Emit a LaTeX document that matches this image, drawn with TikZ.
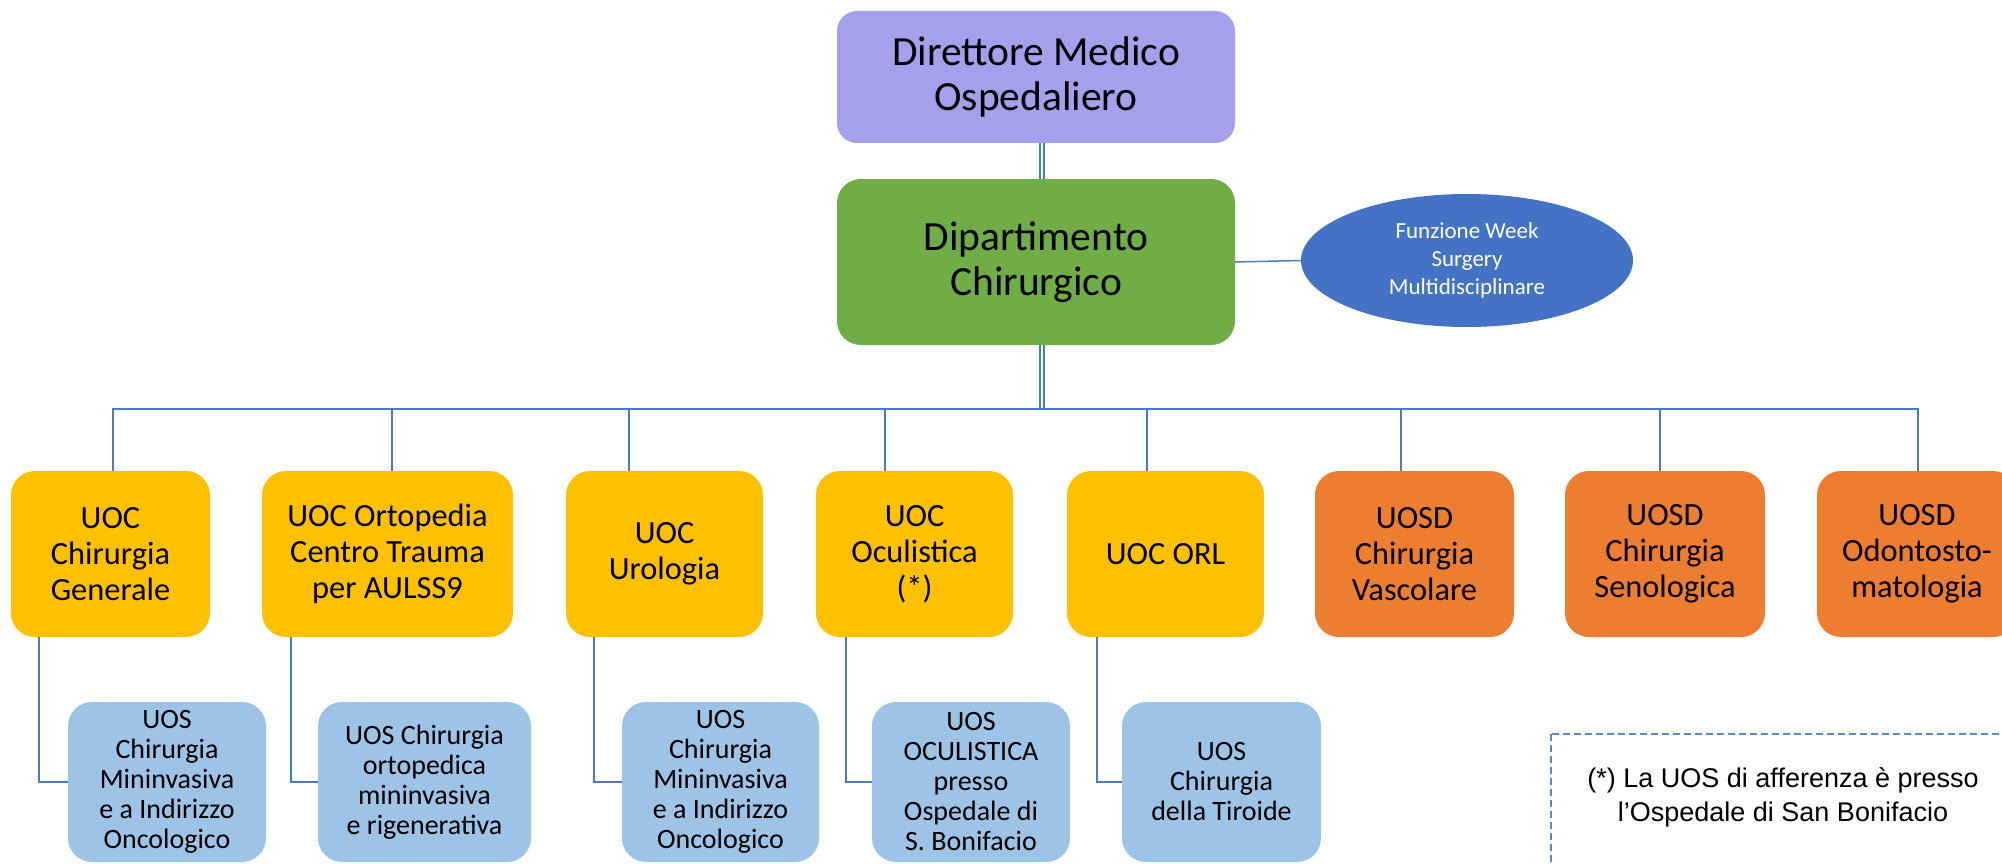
\documentclass[tikz,border=0pt]{standalone}
\usepackage{fontspec}
\setmainfont{Carlito}
\newfontfamily\notefont{Liberation Sans}
\usetikzlibrary{shapes.geometric}

\definecolor{dmocol}{HTML}{A5A0EC}
\definecolor{dipcol}{HTML}{70AD47}
\definecolor{weekcol}{HTML}{4472C4}
\definecolor{uoccol}{HTML}{FFC000}
\definecolor{uosdcol}{HTML}{ED7D31}
\definecolor{uoscol}{HTML}{9DC3E6}
\definecolor{linkcol}{HTML}{4A7EBB}
\definecolor{notecol}{HTML}{5B8BC5}

\tikzset{
    box/.style={align=center, inner sep=0pt},
    dirbox/.style={box, rounded corners=20pt, fill=dmocol, minimum width=398pt,
        font=\fontsize{41.5}{45}\selectfont},
    dipbox/.style={box, rounded corners=24pt, fill=dipcol, minimum width=398pt,
        minimum height=166pt, font=\fontsize{41.5}{45}\selectfont},
    weekell/.style={ellipse, align=center, inner sep=0pt, fill=weekcol, text=white,
        minimum width=332pt, minimum height=133pt, font=\fontsize{23}{28}\selectfont},
    uocbox/.style={box, rounded corners=24pt, fill=uoccol, minimum height=166pt,
        font=\fontsize{32.4}{36}\selectfont},
    uosdbox/.style={uocbox, fill=uosdcol},
    uosbox/.style={box, rounded corners=24pt, fill=uoscol, minimum height=160pt,
        font=\fontsize{28}{30}\selectfont},
    link/.style={draw=linkcol, line width=1.5pt},
    trunk/.style={draw=linkcol, line width=2.5pt, double=white, double distance=1.5pt},
    notedash/.style={draw=notecol, line width=1.5pt, dash pattern=on 7pt off 4pt},
    notetext/.style={align=center, inner sep=0pt, font=\notefont\fontsize{27}{34}\selectfont}
}

\begin{document}
\begin{tikzpicture}[x=1pt, y=-1pt]

            \def\Ytop{77};
            \def\Ydip{262};
            \def\Yuoc{554};
            \def\Yuos{782};
            \def\Ybus{409};
            \def\Xtrunk{1042};

            \useasboundingbox (0,0) rectangle (2002,864);

            % direzione
            \node[dirbox, minimum height=132pt] (dmo) at (1036, \Ytop) {Direttore Medico\\Ospedaliero};
            \node[dipbox] (dip) at (1036, \Ydip) {Dipartimento\\Chirurgico};
            \node[weekell] (week) at (1467, 260.5) {Funzione Week\\Surgery\\Multidisciplinare};

            % UOC / UOSD
            \node[uocbox, minimum width=199pt] (gen) at (110.5, \Yuoc) {UOC\\Chirurgia\\Generale};
            \node[uocbox, minimum width=251pt] (orto) at (387.5, \Yuoc) {UOC Ortopedia\\Centro Trauma\\per AULSS9};
            \node[uocbox, minimum width=197pt] (uro) at (664.5, \Yuoc) {UOC\\Urologia};
            \node[uocbox, minimum width=197pt] (ocu) at (914.5, \Yuoc) {UOC\\Oculistica\\(*)};
            \node[uocbox, minimum width=197pt] (orl) at (1165.5, \Yuoc) {UOC ORL};
            \node[uosdbox, minimum width=199pt] (vasc) at (1414.5, \Yuoc) {UOSD\\Chirurgia\\Vascolare};
            \node[uosdbox, minimum width=200pt] (seno) at (1665, \Yuoc) {UOSD\\Chirurgia\\Senologica};
            \node[uosdbox, minimum width=200pt] (odon) at (1917, \Yuoc) {UOSD\\Odontosto-\\matologia};

            % UOS
            \node[uosbox, minimum width=198pt] (mini1) at (167, \Yuos) {UOS\\Chirurgia\\Mininvasiva\\e a Indirizzo\\Oncologico};
            \node[uosbox, minimum width=213pt] (ortomini) at (424.5, \Yuos) {UOS Chirurgia\\ortopedica\\mininvasiva\\e rigenerativa};
            \node[uosbox, minimum width=197pt] (mini2) at (720.5, \Yuos) {UOS\\Chirurgia\\Mininvasiva\\e a Indirizzo\\Oncologico};
            \node[uosbox, minimum width=198pt] (ocul) at (971, \Yuos) {UOS\\OCULISTICA\\presso\\Ospedale di\\S. Bonifacio};
            \node[uosbox, minimum width=199pt] (tiro) at (1221.5, \Yuos) {UOS\\Chirurgia\\della Tiroide};

            % links
            \coordinate (bus) at (\Xtrunk, \Ybus);
            \draw[trunk] ([xshift=6]dmo.south) -- ([xshift=6]dip.north);
            \draw[trunk] ([xshift=6]dip.south) -- (bus);
            \draw[link] (dip.east) -- (week.west);
            \foreach \n/\dx in {gen/2.5, orto/4.5, uro/-35.5, ocu/-29.5, orl/-18.5, vasc/-13.5, seno/-5, odon/1}
                \draw[link] (bus) -| ([xshift=\dx]\n.north);
            \foreach \a/\b/\dx in {gen/mini1/-71.5, orto/ortomini/-96.5, uro/mini2/-70.5, ocu/ocul/-68.5, orl/tiro/-68.5}
                \draw[link] ([xshift=\dx]\a.south) |- (\b.west);

            % nota
            \draw[notedash] (1551, 734) rectangle (2060, 900);
            \node[notetext] (nota) at (1783, 797) {(*) La UOS di afferenza è presso\\l’Ospedale di San Bonifacio};
        \end{tikzpicture}
\end{document}
